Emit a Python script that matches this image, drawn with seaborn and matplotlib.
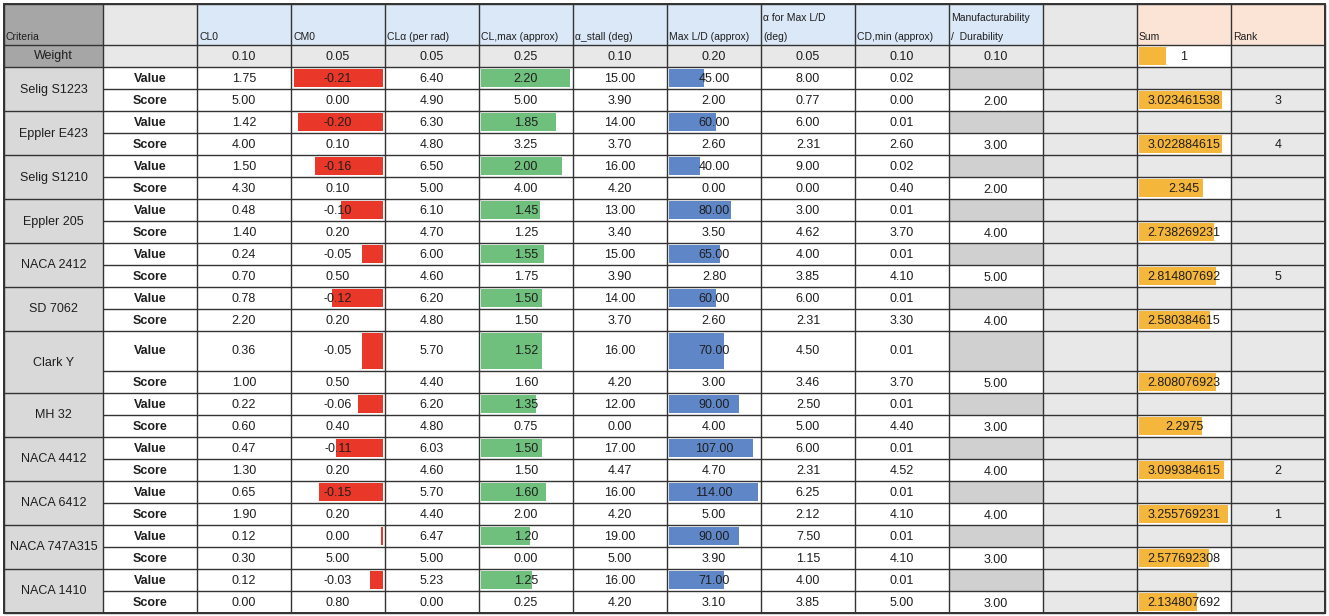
import numpy as np
import matplotlib
matplotlib.use("Agg")
import matplotlib.pyplot as plt
from matplotlib.patches import Rectangle
import seaborn as sns

airfoils = ["Selig S1223", "Eppler E423", "Selig S1210", "Eppler 205", "NACA 2412", "SD 7062",
            "Clark Y", "MH 32", "NACA 4412", "NACA 6412", "NACA 747A315", "NACA 1410"]
criteria = ["CL0", "CM0", "CL\u03b1 (per rad)", "CL,max (approx)", "\u03b1_stall (deg)", "Max L/D (approx)",
            "\u03b1 for Max L/D\n(deg)", "CD,min (approx)", "Manufacturability\n/  Durability"]
weights = [0.10, 0.05, 0.05, 0.25, 0.10, 0.20, 0.05, 0.10, 0.10]
weight_sum = 1

# raw values
cl0_val = [1.75, 1.42, 1.50, 0.48, 0.24, 0.78, 0.36, 0.22, 0.47, 0.65, 0.12, 0.12]
cm0_val = [-0.21, -0.20, -0.16, -0.10, -0.05, -0.12, -0.05, -0.06, -0.11, -0.15, 0.00, -0.03]
cla_val = [6.40, 6.30, 6.50, 6.10, 6.00, 6.20, 5.70, 6.20, 6.03, 5.70, 6.47, 5.23]
clmax_val = [2.20, 1.85, 2.00, 1.45, 1.55, 1.50, 1.52, 1.35, 1.50, 1.60, 1.20, 1.25]
stall_val = [15.0, 14.0, 16.0, 13.0, 15.0, 14.0, 16.0, 12.0, 17.0, 16.0, 19.0, 16.0]
ld_val = [45.0, 60.0, 40.0, 80.0, 65.0, 60.0, 70.0, 90.0, 107.0, 114.0, 90.0, 71.0]
alpha_ld_val = [8.00, 6.00, 9.00, 3.00, 4.00, 6.00, 4.50, 2.50, 6.00, 6.25, 7.50, 4.00]
cdmin_val = [0.02, 0.01, 0.02, 0.01, 0.01, 0.01, 0.01, 0.01, 0.01, 0.01, 0.01, 0.01]

# scores
cl0_score = [5.00, 4.00, 4.30, 1.40, 0.70, 2.20, 1.00, 0.60, 1.30, 1.90, 0.30, 0.00]
cm0_score = [0.00, 0.10, 0.10, 0.20, 0.50, 0.20, 0.50, 0.40, 0.20, 0.20, 5.00, 0.80]
cla_score = [4.90, 4.80, 5.00, 4.70, 4.60, 4.80, 4.40, 4.80, 4.60, 4.40, 5.00, 0.00]
clmax_score = [5.00, 3.25, 4.00, 1.25, 1.75, 1.50, 1.60, 0.75, 1.50, 2.00, 0.00, 0.25]
stall_score = [3.90, 3.70, 4.20, 3.40, 3.90, 3.70, 4.20, 0.00, 4.47, 4.20, 5.00, 4.20]
ld_score = [2.00, 2.60, 0.00, 3.50, 2.80, 2.60, 3.00, 4.00, 4.70, 5.00, 3.90, 3.10]
alpha_ld_score = [0.77, 2.31, 0.00, 4.62, 3.85, 2.31, 3.46, 5.00, 2.31, 2.12, 1.15, 3.85]
cdmin_score = [0.00, 2.60, 0.40, 3.70, 4.10, 3.30, 3.70, 4.40, 4.52, 4.10, 4.10, 5.00]
manuf_score = [2.00, 3.00, 2.00, 4.00, 5.00, 4.00, 5.00, 3.00, 4.00, 4.00, 3.00, 3.00]

sums = [3.023461538, 3.022884615, 2.345, 2.738269231, 2.814807692, 2.580384615,
        2.808076923, 2.2975, 3.099384615, 3.255769231, 2.577692308, 2.134807692]
ranks = [3, 4, None, None, 5, None, None, None, 2, 1, None, None]

values = [cl0_val, cm0_val, cla_val, clmax_val, stall_val, ld_val, alpha_ld_val, cdmin_val]
scores = [cl0_score, cm0_score, cla_score, clmax_score, stall_score, ld_score,
          alpha_ld_score, cdmin_score, manuf_score]

# colours
DARK_GRAY = "#a6a6a6"
NAME_GRAY = "#d9d9d9"
LIGHT_GRAY = "#e8e8e8"
MID_GRAY = "#d0d0d0"
HDR_BLUE = "#dbe8f7"
HDR_PEACH = "#fbe3d6"
TXT = "#1e1e1e"
RED = "#e9382a"
GREEN = "#6fc07d"
BLUE = "#5f87c8"
ORANGE = "#f5b63c"

sns.set_theme(style="white")
plt.rcParams['font.family'] = ['Liberation Sans Narrow', 'Liberation Sans', 'DejaVu Sans']

# === Layout of the grid (pixel units) ===
col_w = [99] + [94] * 13
x_edges = 4 + np.concatenate([[0], np.cumsum(col_w)])
row_h = [41, 22]
for name in airfoils:
    row_h += [40 if name == "Clark Y" else 22, 22]
y_edges = 4 + np.concatenate([[0], np.cumsum(row_h)])

fig = plt.figure(figsize=(13.29, 6.16), dpi=100)
ax = fig.add_axes([0, 0, 1, 1])
ax.set_xlim(0, 1329)
ax.set_ylim(616, 0)
ax.axis("off")

FS = 9


def cell(c, r, color, nrows=1):
    ax.add_patch(Rectangle((x_edges[c], y_edges[r]), col_w[c], y_edges[r + nrows] - y_edges[r],
                           facecolor=color, edgecolor="none", zorder=1))


def ctext(c, r, s, nrows=1, dy=0.5, **kw):
    xc = (x_edges[c] + x_edges[c + 1]) / 2
    yc = (y_edges[r] + y_edges[r + nrows]) / 2
    ax.text(xc, yc + dy, s, ha="center", va="center", fontsize=FS, color=TXT, zorder=4, **kw)


def databar(c, r, v, vmax, color, from_right=False):
    span = col_w[c] - 5
    w = max(abs(v) / vmax * span, 2)
    h = row_h[r] - 4
    yc = (y_edges[r] + y_edges[r + 1]) / 2
    left = x_edges[c + 1] - 2 - w if from_right else x_edges[c] + 2
    ax.barh(yc, w, left=left, height=h, color=color, zorder=2, linewidth=0)


# --- header row ---
cell(0, 0, DARK_GRAY)
cell(1, 0, LIGHT_GRAY)
for j in range(9):
    cell(2 + j, 0, HDR_BLUE)
cell(11, 0, LIGHT_GRAY)
cell(12, 0, HDR_PEACH)
cell(13, 0, HDR_PEACH)
header = ["Criteria", ""] + criteria + ["", "Sum", "Rank"]
for c, label in enumerate(header):
    lines = label.split("\n")[::-1]
    for k, line in enumerate(lines):
        ax.text(x_edges[c] + 2, y_edges[1] - 8 - 19 * k, line, ha="left", va="center",
                fontsize=7.5, color=TXT, zorder=4)

# --- weight row ---
cell(0, 1, DARK_GRAY)
cell(1, 1, LIGHT_GRAY)
for j in range(9):
    cell(2 + j, 1, LIGHT_GRAY)
    ctext(2 + j, 1, f"{weights[j]:.2f}")
cell(11, 1, LIGHT_GRAY)
cell(12, 1, "white")
cell(13, 1, LIGHT_GRAY)
ctext(0, 1, "Weight")
sum_max = max([weight_sum] + sums)
databar(12, 1, weight_sum, sum_max, ORANGE)
ctext(12, 1, f"{weight_sum}")

# --- airfoil rows ---
bar_cols = {1: (RED, True), 3: (GREEN, False), 5: (BLUE, False)}
for i, name in enumerate(airfoils):
    rv, rs = 2 + 2 * i, 3 + 2 * i
    cell(0, rv, NAME_GRAY, nrows=2)
    ctext(0, rv, name, nrows=2)
    for r, lab in ((rv, "Value"), (rs, "Score")):
        cell(1, r, "white")
        ctext(1, r, lab, fontweight="bold")
    for j in range(8):
        cell(2 + j, rv, "white")
        cell(2 + j, rs, "white")
        v = values[j][i]
        if j in bar_cols:
            color, from_right = bar_cols[j]
            vmax = max(abs(x) for x in values[j])
            databar(2 + j, rv, v, vmax, color, from_right)
        ctext(2 + j, rv, f"{v:.2f}")
        ctext(2 + j, rs, f"{scores[j][i]:.2f}")
    cell(10, rv, MID_GRAY)
    cell(10, rs, "white")
    ctext(10, rs, f"{manuf_score[i]:.2f}", dy=2)
    for r in (rv, rs):
        cell(11, r, LIGHT_GRAY)
        cell(13, r, LIGHT_GRAY)
    cell(12, rv, LIGHT_GRAY)
    cell(12, rs, "white")
    databar(12, rs, sums[i], sum_max, ORANGE)
    ctext(12, rs, f"{sums[i]:.10g}")
    if ranks[i] is not None:
        ctext(13, rs, f"{ranks[i]}")

# --- grid lines ---
LINE = "#333333"
ax.vlines(x_edges, y_edges[0], y_edges[-1], color=LINE, lw=1.0, zorder=3)
group_rows = {0, 1, 2} | {2 + 2 * i for i in range(len(airfoils) + 1)}
for r, y in enumerate(y_edges):
    x0 = x_edges[0] if r in group_rows else x_edges[1]
    ax.hlines(y, x0, x_edges[-1], color=LINE, lw=1.0, zorder=3)
ax.add_patch(Rectangle((x_edges[0], y_edges[0]), x_edges[-1] - x_edges[0], y_edges[-1] - y_edges[0],
                       fill=False, edgecolor=LINE, lw=1.4, zorder=3))

fig.savefig("out.png", dpi=100)
